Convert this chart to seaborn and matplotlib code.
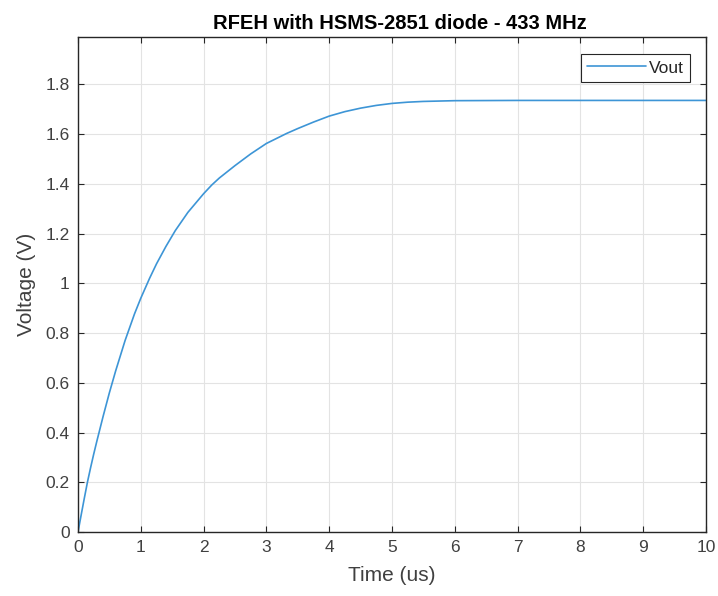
import matplotlib
matplotlib.use("Agg")
import matplotlib.pyplot as plt
import seaborn as sns
import pandas as pd

time_us = [0, 0.05, 0.1, 0.15, 0.2, 0.25, 0.3, 0.4, 0.5, 0.6, 0.75, 0.9, 1.0, 1.14, 1.25,
           1.4, 1.55, 1.75, 2.0, 2.13, 2.25, 2.5, 2.75, 3.0, 3.32, 3.5, 3.75, 4.0, 4.25,
           4.5, 4.75, 5.0, 5.25, 5.5, 6.0, 7.0, 8.0, 9.0, 10.0]
vout = [0, 0.068, 0.135, 0.2, 0.258, 0.313, 0.365, 0.465, 0.56, 0.648, 0.77, 0.877, 0.94, 1.02, 1.078,
        1.148, 1.212, 1.285, 1.36, 1.395, 1.423, 1.473, 1.52, 1.562, 1.602, 1.622, 1.648, 1.672, 1.69,
        1.704, 1.715, 1.723, 1.728, 1.731, 1.734, 1.735, 1.735, 1.735, 1.735]
x_ticks = list(range(0, 11))
y_ticks = [0, 0.2, 0.4, 0.6, 0.8, 1, 1.2, 1.4, 1.6, 1.8]
y_tick_labels = ["0", "0.2", "0.4", "0.6", "0.8", "1", "1.2", "1.4", "1.6", "1.8"]

sns.set_theme(style="white")
plt.rcParams['font.family'] = ['Liberation Sans', 'DejaVu Sans']

df = pd.DataFrame({"Time (us)": time_us, "Voltage (V)": vout})

fig = plt.figure(figsize=(7.18, 5.96), dpi=100)
ax = fig.add_axes([78/718, 64/596, 628/718, 495/596])
sns.lineplot(data=df, x="Time (us)", y="Voltage (V)", ax=ax, color="#3d95d6",
             linewidth=1.2, label="Vout")

ax.set_xlim(0, 10)
ax.set_ylim(0, 1.99)
ax.set_xticks(x_ticks)
ax.set_yticks(y_ticks)
ax.set_yticklabels(y_tick_labels)
ax.grid(True, color="#e3e3e3", linewidth=0.8)
ax.set_axisbelow(True)
for s in ax.spines.values():
    s.set_color("#262626")
    s.set_linewidth(1.0)
ax.tick_params(direction="in", length=4, width=0.8, color="#262626",
               labelsize=12.5, labelcolor="#404040", top=True, right=True,
               bottom=True, left=True, pad=6)
ax.set_xlabel("Time (us)", fontsize=15, color="#404040", labelpad=8)
ax.set_ylabel("Voltage (V)", fontsize=15, color="#404040", labelpad=7)
ax.set_title("RFEH with HSMS-2851 diode - 433 MHz", fontsize=14.5, fontweight="bold",
             color="black", pad=6, x=0.513)
leg = ax.legend(loc="upper right", fontsize=12.5, frameon=True, fancybox=False,
                edgecolor="#262626", framealpha=1, handlelength=3.4,
                bbox_to_anchor=(0.975, 0.965), borderpad=0.35, handletextpad=0.2,
                borderaxespad=0)
leg.get_frame().set_linewidth(0.8)

fig.savefig("out.png", dpi=100)
